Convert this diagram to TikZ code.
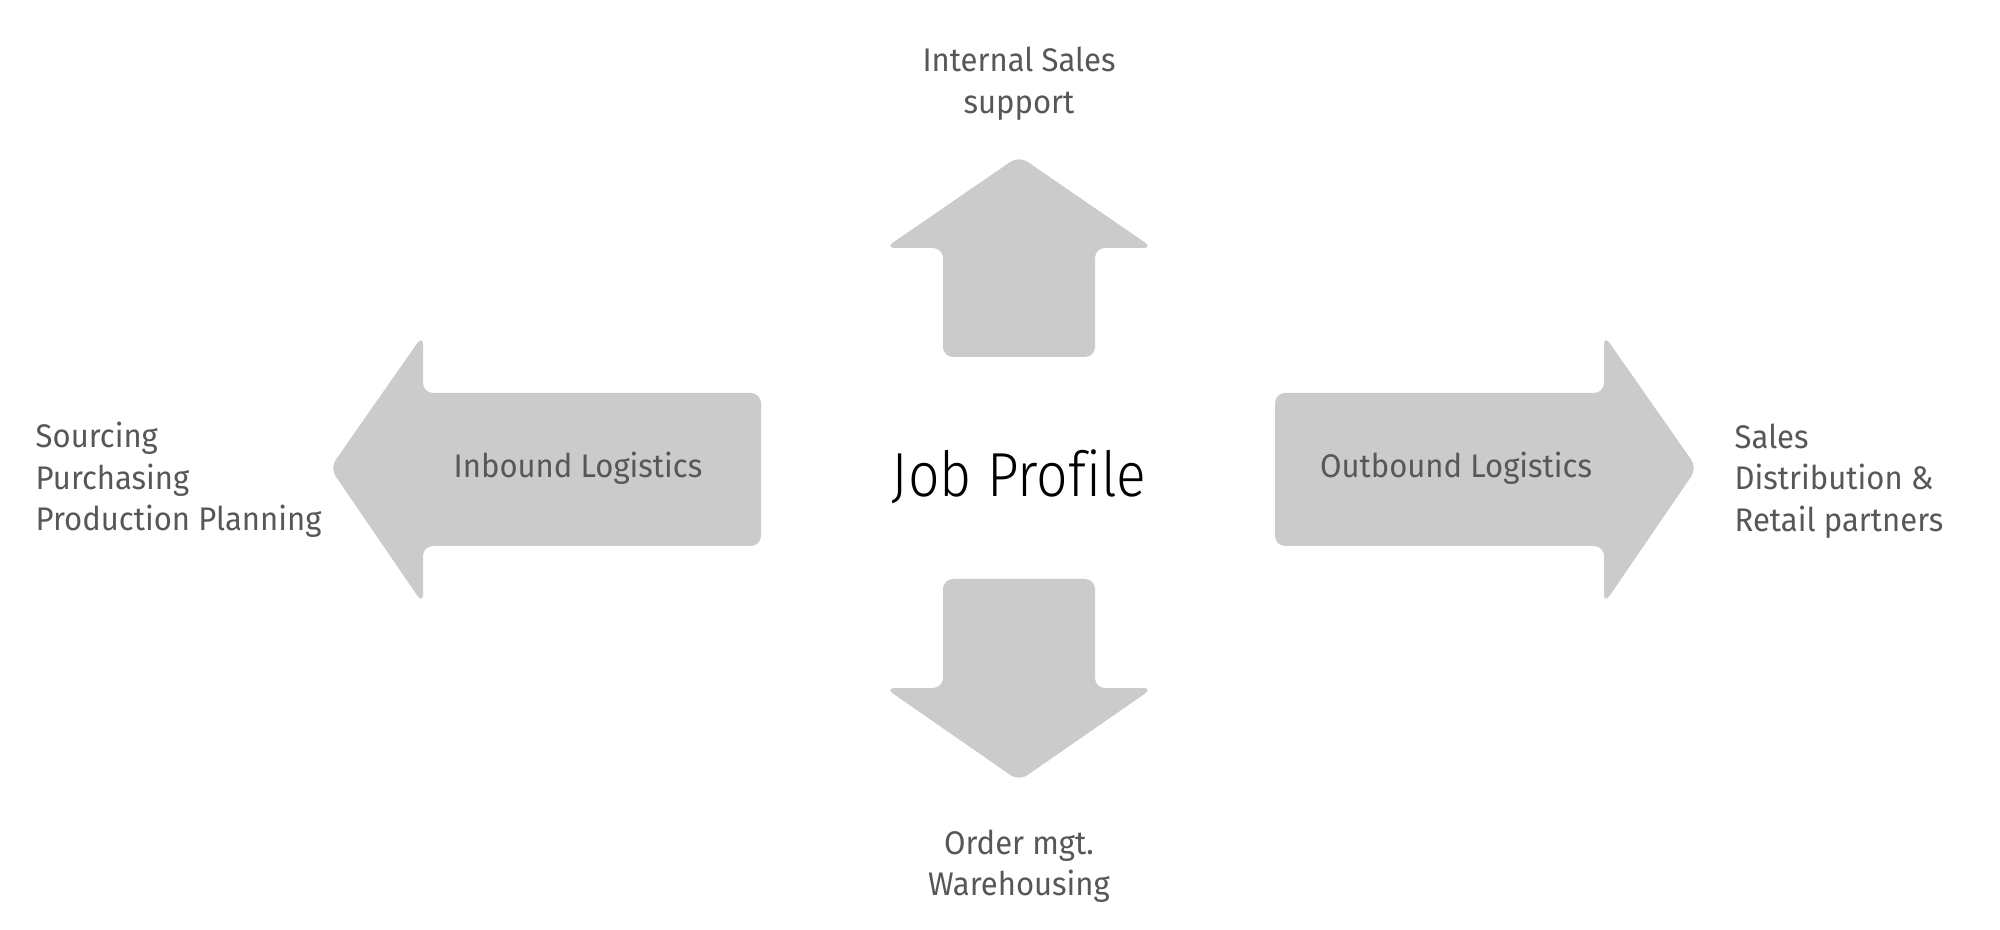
\documentclass[tikz,border=0pt]{standalone}
\usepackage{fontspec}
\setmainfont{Fira Sans}[FakeStretch=0.95]
\newfontfamily\thinfont{Fira Sans Light}[FakeStretch=0.89, Ligatures=NoCommon]
\usetikzlibrary{positioning}
\definecolor{arrowgray}{HTML}{CBCBCB}
\definecolor{textgray}{HTML}{575757}

\begin{document}
\begin{tikzpicture}[
	node distance=0.35cm,
	bigarrow/.style={fill=arrowgray, rounded corners=1mm},
	caption/.style={text=textgray, font=\fontsize{9.3}{11.8}\selectfont, inner sep=0pt},
	side/.style={caption, align=left},
	tiplabel/.style={caption, align=center}
	]
	\useasboundingbox (0,0) rectangle (20,9.29);
	
	% the four arrows
	\fill[bigarrow] (9.43,5.72) -- (9.43,6.81) -- (8.85,6.81) -- (10.19,7.73) -- (11.53,6.81) -- (10.95,6.81) -- (10.95,5.72) -- cycle;
	\fill[bigarrow] (9.43,3.50) -- (9.43,2.41) -- (8.85,2.41) -- (10.19,1.48) -- (11.53,2.41) -- (10.95,2.41) -- (10.95,3.50) -- cycle;
	\fill[bigarrow] (7.61,5.36) -- (4.23,5.36) -- (4.23,5.94) -- (3.30,4.61) -- (4.23,3.25) -- (4.23,3.83) -- (7.61,3.83) -- cycle;
	\fill[bigarrow] (12.75,5.36) -- (16.04,5.36) -- (16.04,5.94) -- (16.97,4.61) -- (16.04,3.25) -- (16.04,3.83) -- (12.75,3.83) -- cycle;
	
	\coordinate (uptip) at (10.19,7.73);
	\coordinate (downtip) at (10.19,1.48);
	
	\node[font=\thinfont\fontsize{17.7}{21}\selectfont, inner sep=0pt] (job) at (10.19,4.52) {Job Profile};
	\node[caption] (inbound) at (5.78,4.61) {Inbound Logistics};
	\node[caption] (outbound) at (14.56,4.61) {Outbound Logistics};
	
	\node[tiplabel, above=of uptip] (internal) {Internal Sales\\support};
	\node[tiplabel, below=0.48cm of downtip] (order) {Order mgt.\\Warehousing};
	\node[side, anchor=west] (sourcing) at (0.35,4.49) {Sourcing\\Purchasing\\Production Planning};
	\node[side, anchor=west] (sales) at (17.34,4.48) {Sales\\Distribution \&\\Retail partners};
\end{tikzpicture}
\end{document}
